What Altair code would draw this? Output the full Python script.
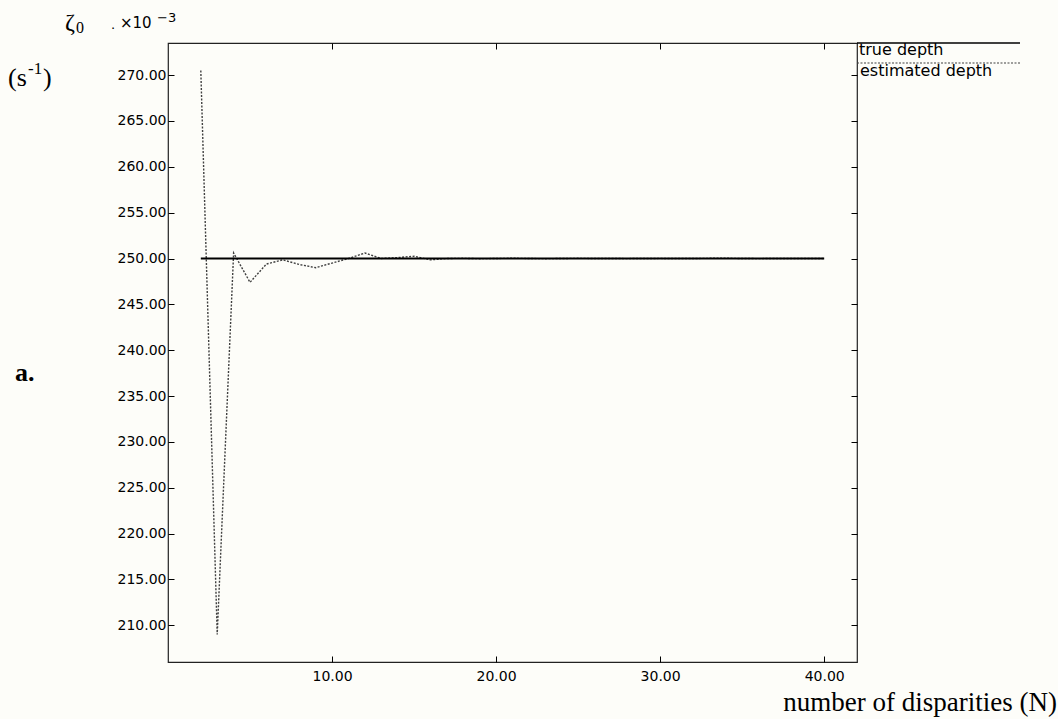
import altair as alt
import pandas as pd

# ---- data ----
n_est = list(range(2, 41))
est_depth = [270.5, 209.0, 250.6, 247.4, 249.4, 249.85, 249.35, 249.0, 249.5, 250.0,
             250.6, 250.0, 250.1, 250.25, 249.85, 250.0, 250.02, 249.98, 250.0, 250.03,
             250.0, 249.98, 250.0, 250.02, 250.0, 250.0, 249.99, 250.0, 250.01, 250.0,
             250.0, 250.02, 250.03, 250.0, 249.99, 250.0, 250.0, 250.0, 250.0]
n_true = [2, 40]
true_depth = [250.0, 250.0]

x_ticks = [10, 20, 30, 40]
y_ticks = [210, 215, 220, 225, 230, 235, 240, 245, 250, 255, 260, 265, 270]
legend_names = ["true depth", "estimated depth"]

W, H = 689, 619
xscale = alt.Scale(domain=[0, 42], nice=False, zero=False)
yscale = alt.Scale(domain=[206, 273.5], nice=False, zero=False)

est_df = pd.DataFrame({"N": n_est, "zeta": est_depth})
true_df = pd.DataFrame({"N": n_true, "zeta": true_depth})

ax_common = dict(offset=-6, tickSize=6, tickColor="black", tickWidth=1,
                 domain=False, grid=False, title=None)

x_bottom = alt.Axis(orient="bottom", values=x_ticks, format=".2f", labelPadding=7,
                    labelFlush=False, **ax_common)
x_top = alt.Axis(orient="top", values=x_ticks, labels=False, **ax_common)
y_left = alt.Axis(orient="left", values=y_ticks, format=".2f", labelPadding=2, **ax_common)
y_right = alt.Axis(orient="right", values=y_ticks, labels=False, **ax_common)

est = alt.Chart(est_df).mark_line(color="#404040", strokeWidth=1.4, strokeDash=[2, 1.5]).encode(
    x=alt.X("N:Q", scale=xscale, axis=x_bottom),
    y=alt.Y("zeta:Q", scale=yscale, axis=y_left),
)
true = alt.Chart(true_df).mark_line(color="black", strokeWidth=2).encode(
    x=alt.X("N:Q", scale=xscale, axis=x_top),
    y=alt.Y("zeta:Q", scale=yscale, axis=y_right),
)

def txt(text, x, y, size, font="Liberation Serif", align="left", weight="normal"):
    return alt.Chart(est_df.head(1)).mark_text(
        text=text, font=font, fontSize=size, align=align, baseline="alphabetic",
        fontWeight=weight, color="black"
    ).encode(x=alt.value(x), y=alt.value(y))

# legend (outside plot, at right of the frame)
leg_line1 = alt.Chart(est_df.head(1)).mark_rule(color="black", strokeWidth=1.5).encode(
    x=alt.value(W), x2=alt.value(W + 163), y=alt.value(0))
leg_line2 = alt.Chart(est_df.head(1)).mark_rule(color="#404040", strokeWidth=1.2, strokeDash=[2, 1.5]).encode(
    x=alt.value(W), x2=alt.value(W + 163), y=alt.value(20))
leg_t1 = txt(legend_names[0], W + 2, 12, 16, font="DejaVu Sans")
leg_t2 = txt(legend_names[1], W + 3, 33, 16, font="DejaVu Sans")

annots = [
    txt("ζ", -103, -13, 24),
    txt("0", -92, -10, 16),
    txt(".", -57, -14, 13, font="DejaVu Sans"),
    txt("×10", -48, -15, 15, font="DejaVu Sans"),
    txt("−3", -11, -21, 13, font="DejaVu Sans"),
    txt("(s", -160, 43, 26),
    txt("-1", -140, 31, 17),
    txt(")", -125, 43, 26),
    txt("a.", -153, 338, 26, weight="bold"),
    txt("number of disparities (N)", 889, 668, 27, align="right"),
    leg_t1, leg_t2,
]

chart = alt.layer(
    est, true,
    *annots,
    leg_line1, leg_line2,
).resolve_axis(x="independent", y="independent").properties(
    width=W, height=H,
    padding={"left": 168, "top": 43, "right": 201, "bottom": 57},
    autosize=alt.AutoSizeParams(type="none"),
    background="#fdfdf9",
).configure_view(stroke="#222222", strokeWidth=1.2).configure_axis(
    labelFont="DejaVu Sans", labelFontSize=14, labelColor="black"
)

chart.save("out.html", embed_options={"renderer": "svg", "actions": False})
